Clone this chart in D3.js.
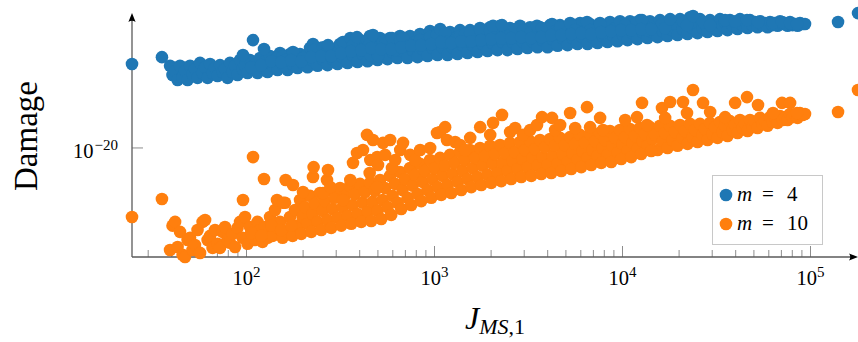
<!DOCTYPE html>
<html><head><meta charset="utf-8">
<script src="https://cdn.jsdelivr.net/npm/d3@7"></script>
<style>html,body{margin:0;padding:0;background:#fff;} svg{display:block;}</style>
</head><body>
<svg id="chart" width="858" height="342"></svg>
<script>
// J_{MS,1} values (shared by both series)
const jms = [24.6, 35.5,
39.2, 40.4, 41.7, 43.0, 44.3, 45.7, 47.1, 48.6, 50.1, 51.6,
53.2, 54.9, 56.6, 58.4, 60.2, 62.1, 64.0, 66.0, 68.0, 70.1,
72.3, 74.6, 76.8, 79.3, 81.7, 84.3, 86.9, 89.6, 92.4, 95.3,
98.2, 101.3, 104.4, 107.7, 111.0, 114.5, 118.0, 121.7, 125.4, 129.4,
133.4, 137.6, 141.8, 146.3, 150.7, 155.5, 160.3, 165.4, 170.4, 175.8,
181.1, 186.9, 192.6, 198.7, 204.7, 211.2, 217.7, 224.6, 231.4, 238.7,
246.0, 253.8, 261.5, 269.8, 278.0, 286.8, 295.6, 305.0, 314.3, 324.2,
334.1, 344.7, 355.2, 366.4, 377.6, 389.6, 401.5, 414.2, 426.8, 440.3,
453.8, 468.1, 482.4, 497.7, 513.0, 529.2, 545.4, 562.6, 579.8, 598.2,
616.5, 636.0, 655.4, 676.1, 696.8, 718.8, 740.8, 764.2, 787.6, 812.5,
837.3, 863.8, 890.2, 918.4, 946.5, 976.3, 1006, 1038, 1070, 1104,
1137, 1173, 1209, 1247, 1285, 1326, 1367, 1410, 1453, 1499,
1545, 1594, 1643, 1695, 1746, 1802, 1857, 1916, 1974, 2037,
2099, 2165, 2231, 2301, 2371, 2446, 2521, 2601, 2681, 2766,
2850, 2940, 3030, 3126, 3221, 3323, 3425, 3533, 3641, 3756,
3871, 3994, 4116, 4246, 4375, 4514, 4652, 4799, 4945, 5102,
5258, 5424, 5590, 5766, 5942, 6130, 6318, 6517, 6716, 6929,
7141, 7366, 7591, 7831, 8071, 8326, 8580, 8851, 9122, 9410,
9698, 10000, 10310, 10640, 10960, 11310, 11650, 12020, 12390, 12780,
13170, 13590, 14000, 14450, 14890, 15360, 15830, 16330, 16830, 17360,
17890, 18460, 19020, 19620, 20220, 20860, 21500, 22180, 22860, 23580,
24300, 25070, 25830, 26650, 27470, 28340, 29200, 30120, 31040, 32020,
33000, 34050, 35090, 36200, 37300, 38480, 39660, 40920, 42170, 43500,
44830, 46250, 47660, 49170, 50670, 52270, 53870, 55580, 57280, 59090,
60890, 62820, 64740, 66790, 68830, 71010, 73180, 75490, 77800, 80260,
82710, 85320, 87930, 90710, 93480,
95.8, 108.3, 123.9, 145.3, 156.4, 161.5, 176.7, 199.7, 225.8, 227.5,
255.2, 268.0, 271.3, 279.5, 326.0, 356.5, 368.5, 387.0, 416.5, 437.4,
455.5, 452.0, 470.7, 494.4, 495.8, 500.6, 532.2, 546.5, 581.0, 594.2,
618.0, 657.0, 680.0, 742.5, 789.5, 839.0, 948.0, 1031, 1072, 1139,
1165, 1288, 1369, 1456, 1548, 1750, 1978, 2048, 2286, 2525,
2686, 2957, 3227, 3510, 3731, 4218, 4380, 4660, 5265, 5600,
6475, 6725, 7600, 7876, 10330, 11940, 12700, 13500, 16220, 16860,
17920, 20980, 22030, 23710, 26810, 29250, 35150, 39720, 45940, 52570,
63170, 70540, 77900, 84760,
140100, 178900,
106.0, 119.8, 135.5, 153.0, 173.0,
195.6, 221.1, 249.8, 282.3, 319.1, 360.7, 407.7, 460.8, 520.9, 588.7,
665.5, 752.2, 850.2, 961.1, 1086, 1228, 1388, 1569, 1773, 2004,
2265, 2560, 2894, 3271, 3697, 4179, 4724, 5339, 6034, 6819,
7708, 8712, 9847, 11130, 12580, 14220];

// Damage, m = 4
const damageM4 = [1.6e-16, 3.5e-16,
1.3e-16, 4.5e-17, 7.1e-17, 2.5e-17, 1.3e-16, 3.5e-17, 7.1e-17, 2.5e-17, 1.3e-16, 5.0e-17,
8.9e-17, 3.2e-17, 1.8e-16, 5.6e-17, 1.1e-16, 3.2e-17, 1.6e-16, 5.6e-17, 1e-16, 4.0e-17,
1.4e-16, 6.3e-17, 8.9e-17, 3.2e-17, 1.8e-16, 6.3e-17, 1.3e-16, 4.5e-17, 2.5e-16, 8.9e-17,
1.3e-16, 5.6e-17, 2.5e-16, 8.9e-17, 1.6e-16, 5.6e-17, 3.2e-16, 1.1e-16, 2.2e-16, 6.3e-17,
4.0e-16, 1.3e-16, 2.5e-16, 7.9e-17, 5.6e-16, 1.6e-16, 2.8e-16, 7.9e-17, 5.0e-16, 1.6e-16,
2.8e-16, 1e-16, 5.0e-16, 1.8e-16, 4.0e-16, 1.1e-16, 1e-15, 2.5e-16, 5.6e-16, 1.3e-16,
1e-15, 2.8e-16, 4.5e-16, 1.4e-16, 1e-15, 2.8e-16, 5.0e-16, 1.6e-16, 1.6e-15, 3.5e-16,
8.9e-16, 1.8e-16, 2.5e-15, 4.5e-16, 1.3e-15, 2.0e-16, 2.5e-15, 5.0e-16, 1.1e-15, 2.2e-16,
4.0e-15, 5.6e-16, 1.4e-15, 2.5e-16, 3.2e-15, 5.6e-16, 1.3e-15, 2.8e-16, 3.2e-15, 6.3e-16,
1.8e-15, 3.2e-16, 4.0e-15, 7.1e-16, 1.8e-15, 3.2e-16, 4.0e-15, 7.9e-16, 2.0e-15, 3.5e-16,
5.0e-15, 8.9e-16, 2.5e-15, 4.0e-16, 7.1e-15, 1e-15, 3.2e-15, 4.5e-16, 7.9e-15, 1.1e-15,
2.8e-15, 4.5e-16, 6.3e-15, 1.1e-15, 3.2e-15, 5.0e-16, 7.9e-15, 1.4e-15, 3.2e-15, 5.6e-16,
7.9e-15, 1.4e-15, 4.0e-15, 6.3e-16, 1e-14, 1.6e-15, 4.0e-15, 7.1e-16, 1.1e-14, 1.8e-15,
4.5e-15, 7.9e-16, 1.3e-14, 2.0e-15, 4.5e-15, 7.9e-16, 1e-14, 2.0e-15, 5.0e-15, 8.9e-16,
1.3e-14, 2.2e-15, 5.6e-15, 1e-15, 1.1e-14, 2.2e-15, 5.6e-15, 1.1e-15, 1.1e-14, 2.5e-15,
5.6e-15, 1.1e-15, 1.4e-14, 2.8e-15, 7.1e-15, 1.3e-15, 1.4e-14, 3.2e-15, 7.1e-15, 1.4e-15,
1.6e-14, 3.2e-15, 7.1e-15, 1.6e-15, 1.8e-14, 3.5e-15, 7.9e-15, 1.6e-15, 1.6e-14, 3.5e-15,
7.9e-15, 1.8e-15, 1.8e-14, 4.0e-15, 8.9e-15, 2.0e-15, 2.0e-14, 4.5e-15, 1e-14, 2.2e-15,
2.2e-14, 5.0e-15, 1e-14, 2.5e-15, 2.2e-14, 5.6e-15, 1e-14, 2.8e-15, 2.5e-14, 6.3e-15,
1.1e-14, 3.2e-15, 2.2e-14, 6.3e-15, 1.3e-14, 3.5e-15, 2.5e-14, 7.1e-15, 1.3e-14, 4.0e-15,
2.5e-14, 7.9e-15, 1.6e-14, 4.5e-15, 2.8e-14, 8.9e-15, 1.8e-14, 5.0e-15, 3.5e-14, 1e-14,
2.0e-14, 5.6e-15, 2.8e-14, 1e-14, 1.6e-14, 6.3e-15, 2.5e-14, 1.1e-14, 1.6e-14, 7.1e-15,
2.8e-14, 1.3e-14, 1.8e-14, 7.9e-15, 2.5e-14, 1.3e-14, 1.8e-14, 8.9e-15, 2.8e-14, 1.4e-14,
2.0e-14, 1e-14, 2.5e-14, 1.4e-14, 2.0e-14, 1.1e-14, 2.2e-14, 1.4e-14, 1.8e-14, 1.1e-14,
2.0e-14, 1.4e-14, 1.8e-14, 1.3e-14, 2.2e-14, 1.6e-14, 1.8e-14, 1.3e-14, 2.0e-14, 1.4e-14,
1.6e-14, 1.3e-14, 1.8e-14, 1.6e-14, 1.6e-14,
4.5e-16, 2.5e-15, 8.9e-16, 3.2e-16, 4.0e-16, 2.5e-16, 6.3e-16, 3.2e-16, 1.6e-15, 7.9e-16,
1.1e-15, 6.3e-16, 1.4e-15, 4.0e-16, 2.0e-15, 3.2e-15, 1.4e-15, 3.5e-15, 7.9e-16, 2.5e-15,
4.5e-16, 1.6e-15, 4.5e-15, 1e-15, 6.3e-16, 4.0e-16, 2.0e-15, 1.6e-15, 1e-15, 3.2e-15,
7.9e-16, 2.5e-15, 3.2e-15, 1.4e-15, 1.3e-15, 2.5e-15, 3.5e-15, 4.5e-15, 8.9e-15, 5.6e-15,
2.0e-15, 2.5e-15, 4.0e-15, 5.0e-15, 5.6e-15, 7.9e-15, 7.1e-15, 1.3e-14, 1.4e-14, 4.5e-15,
8.9e-15, 7.9e-15, 5.6e-15, 1.3e-14, 1e-14, 1.6e-14, 7.1e-15, 1.1e-14, 1.8e-14, 7.9e-15,
2.0e-14, 7.9e-15, 1.6e-14, 5.6e-15, 1.4e-14, 2.0e-14, 2.5e-14, 7.9e-15, 1.6e-14, 1e-14,
2.8e-14, 2.2e-14, 1.4e-14, 4.0e-14, 2.0e-14, 1.4e-14, 2.5e-14, 2.2e-14, 2.5e-14, 2.0e-14,
1.8e-14, 2.0e-14, 1.8e-14, 1.6e-14,
2.0e-14, 5.6e-14,
1.1e-16, 1.4e-16, 2.2e-16, 2.0e-16, 2.5e-16,
2.2e-16, 3.5e-16, 4.0e-16, 4.0e-16, 5.6e-16, 7.1e-16, 7.9e-16, 1e-15, 8.9e-16, 8.9e-16,
1.1e-15, 1.3e-15, 1.4e-15, 1.6e-15, 2.0e-15, 1.8e-15, 2.2e-15, 2.2e-15, 2.5e-15, 2.8e-15,
3.2e-15, 3.2e-15, 3.5e-15, 3.2e-15, 3.5e-15, 4.5e-15, 4.5e-15, 5.0e-15, 5.6e-15, 5.0e-15,
6.3e-15, 7.1e-15, 7.9e-15, 7.9e-15, 8.9e-15, 8.9e-15];

// Damage, m = 10
const damageM10 = [3.5e-24, 2.8e-23,
7.9e-26, 1.3e-24, 2.0e-24, 1.1e-25, 6.3e-25, 4.5e-26, 3.5e-26, 2.5e-25, 3.2e-25, 7.9e-26,
1.4e-25, 7.9e-25, 5.6e-26, 2.0e-24, 2.5e-24, 2.5e-25, 4.0e-25, 1e-25, 7.9e-25, 1.6e-25,
1e-25, 6.3e-25, 1.1e-24, 2.5e-25, 1.8e-25, 5.0e-25, 1.1e-25, 1e-24, 2.0e-24, 3.2e-25,
3.5e-24, 1.6e-25, 1.1e-24, 3.2e-25, 2.5e-25, 2.0e-24, 7.9e-25, 2.0e-25, 1.1e-24, 3.2e-25,
3.5e-24, 4.0e-25, 7.9e-24, 1e-24, 2.0e-24, 3.2e-25, 1.8e-23, 6.3e-25, 3.5e-24, 4.0e-25,
7.9e-24, 1.3e-24, 2.5e-23, 3.5e-24, 1.1e-23, 1.6e-24, 4.0e-23, 5.0e-24, 1.6e-23, 2.0e-24,
5.6e-23, 7.1e-24, 2.2e-23, 2.5e-24, 7.9e-23, 8.9e-24, 3.2e-23, 3.2e-24, 1e-22, 1.1e-23,
4.0e-23, 4.0e-24, 1.3e-22, 1.4e-23, 5.0e-23, 5.0e-24, 1.6e-22, 1.8e-23, 6.3e-23, 6.3e-24,
1.8e-22, 2.0e-23, 7.1e-23, 7.1e-24, 2.5e-22, 2.5e-23, 1e-22, 1.1e-23, 4.0e-22, 4.0e-23,
1.6e-22, 1.8e-23, 6.3e-22, 7.9e-23, 2.8e-22, 3.2e-23, 1e-21, 1.3e-22, 4.5e-22, 5.0e-23,
1.6e-21, 2.0e-22, 7.1e-22, 7.9e-23, 2.5e-21, 2.8e-22, 1e-21, 1.1e-22, 3.2e-21, 4.0e-22,
1.3e-21, 1.4e-22, 4.5e-21, 5.0e-22, 1.8e-21, 2.0e-22, 6.3e-21, 7.1e-22, 2.5e-21, 2.8e-22,
7.9e-21, 1e-21, 3.2e-21, 3.5e-22, 1e-20, 1.3e-21, 4.0e-21, 4.5e-22, 1.3e-20, 1.6e-21,
5.0e-21, 5.6e-22, 1.4e-20, 1.8e-21, 5.6e-21, 7.1e-22, 1.8e-20, 2.2e-21, 6.3e-21, 8.9e-22,
2.0e-20, 2.8e-21, 7.9e-21, 1.1e-21, 2.2e-20, 3.2e-21, 8.9e-21, 1.3e-21, 2.5e-20, 3.5e-21,
1.1e-20, 1.4e-21, 2.8e-20, 4.0e-21, 1.3e-20, 1.6e-21, 3.2e-20, 5.0e-21, 1.4e-20, 2.0e-21,
3.5e-20, 5.6e-21, 1.6e-20, 2.5e-21, 4.5e-20, 7.1e-21, 1.8e-20, 3.2e-21, 5.0e-20, 7.9e-21,
2.2e-20, 4.0e-21, 5.6e-20, 1e-20, 2.5e-20, 4.5e-21, 7.1e-20, 1.3e-20, 3.2e-20, 5.6e-21,
7.9e-20, 1.6e-20, 3.5e-20, 7.1e-21, 8.9e-20, 1.8e-20, 4.0e-20, 8.9e-21, 1e-19, 2.2e-20,
5.0e-20, 1.3e-20, 1.1e-19, 2.8e-20, 4.5e-20, 7.9e-21, 1.3e-19, 2.2e-20, 5.6e-20, 1e-20,
1.3e-19, 2.5e-20, 6.3e-20, 1.3e-20, 1.4e-19, 3.2e-20, 7.1e-20, 1.6e-20, 1.6e-19, 3.5e-20,
7.9e-20, 2.0e-20, 1.6e-19, 4.5e-20, 8.9e-20, 2.5e-20, 1.8e-19, 5.0e-20, 1.1e-19, 3.2e-20,
2.0e-19, 6.3e-20, 1.3e-19, 4.0e-20, 2.2e-19, 7.9e-20, 1.4e-19, 5.6e-20, 2.5e-19, 1e-19,
1.6e-19, 7.1e-20, 2.5e-19, 1.1e-19, 2.0e-19, 1e-19, 3.2e-19, 1.6e-19, 2.2e-19, 1.3e-19,
3.5e-19, 2.0e-19, 3.2e-19, 1.8e-19, 4.0e-19, 2.5e-19, 3.5e-19, 2.5e-19, 5.0e-19, 3.5e-19,
4.5e-19, 3.2e-19, 5.6e-19, 4.5e-19, 5.0e-19,
2.5e-23, 3.5e-21, 2.8e-22, 2.5e-23, 1.8e-23, 2.5e-22, 1.4e-22, 6.3e-23, 3.5e-22, 1.1e-21,
5.6e-23, 2.5e-22, 7.9e-22, 1.1e-22, 2.5e-23, 2.5e-22, 1.8e-21, 5.6e-21, 7.9e-21, 4.5e-20,
2.5e-21, 5.6e-22, 2.5e-20, 1.1e-22, 3.5e-21, 1.4e-21, 1.8e-20, 4.5e-21, 2.5e-20, 1e-21,
2.5e-21, 7.9e-21, 1.8e-20, 4.5e-21, 2.5e-21, 7.9e-21, 1e-20, 5.6e-20, 6.3e-20, 1.1e-19,
2.5e-20, 2.0e-20, 1.4e-20, 7.9e-21, 3.2e-20, 1.1e-19, 4.5e-20, 1.8e-19, 4.5e-19, 6.3e-20,
1e-19, 4.5e-20, 7.9e-20, 1.4e-19, 3.5e-19, 3.2e-19, 7.9e-20, 1.4e-19, 5.6e-19, 1e-19,
1.1e-18, 1.1e-19, 3.2e-19, 7.9e-20, 2.5e-19, 3.5e-19, 1.8e-18, 1.4e-19, 1e-18, 3.2e-19,
2.0e-18, 2.0e-18, 5.6e-19, 7.9e-18, 1.8e-18, 6.3e-19, 3.5e-19, 1.8e-18, 3.5e-18, 1.4e-18,
5.6e-19, 1.8e-18, 1.8e-18, 5.6e-19,
6.3e-19, 7.9e-18,
5.6e-25, 4.0e-25, 1.3e-24, 7.9e-25, 1.3e-24,
5.0e-25, 6.3e-25, 7.9e-25, 1e-24, 1.3e-24, 1.6e-24, 2.0e-24, 2.2e-24, 2.8e-24, 4.5e-24,
8.9e-24, 1.4e-23, 2.2e-23, 3.2e-23, 4.5e-23, 5.6e-23, 7.9e-23, 1.1e-22, 1.4e-22, 1.8e-22,
2.2e-22, 2.8e-22, 3.5e-22, 4.0e-22, 5.0e-22, 5.6e-22, 7.1e-22, 8.9e-22, 1.1e-21, 1.4e-21,
1.8e-21, 2.0e-21, 2.8e-21, 3.5e-21, 5.0e-21, 7.1e-21];

const seriesNames = ["4", "10"];
const seriesColors = ["#1f77b4", "#ff7f0e"];
const xMajorExponents = [2, 3, 4, 5];
const yMajorExponents = [-20];

const svg = d3.select("#chart");
const plot = {left: 132, right: 858, top: 15, bottom: 257};
const x = d3.scaleLog().domain(d3.extent(jms)).range([plot.left, plot.right]);
const y = d3.scaleLog().domain([3.5e-26, 4.5e-14]).range([plot.bottom, plot.top]);
const font = "'Liberation Serif', 'Times New Roman', serif";

// minor + major ticks on x
const gAx = svg.append("g");
x.ticks().forEach(v => {
  const e = Math.log10(v);
  const major = Math.abs(e - Math.round(e)) < 1e-9;
  const px = x(v);
  if (px <= plot.left + 1 || px >= plot.right - 2) return;
  gAx.append("line").attr("x1", px).attr("x2", px)
    .attr("y1", plot.bottom).attr("y2", plot.bottom - (major ? 11 : 7))
    .attr("stroke", "#808080").attr("stroke-width", 0.9);
});
yMajorExponents.forEach(e => {
  const py = y(Math.pow(10, e));
  gAx.append("line").attr("x1", plot.left).attr("x2", plot.left + 11)
    .attr("y1", py).attr("y2", py).attr("stroke", "#808080").attr("stroke-width", 0.9);
});

// axis lines
gAx.append("line").attr("x1", plot.left).attr("x2", plot.left)
  .attr("y1", plot.bottom).attr("y2", plot.top + 4).attr("stroke", "#5a5a5a").attr("stroke-width", 1.3);
gAx.append("line").attr("x1", plot.left).attr("x2", plot.right - 4)
  .attr("y1", plot.bottom).attr("y2", plot.bottom).attr("stroke", "#5a5a5a").attr("stroke-width", 1.3);
// arrowheads
gAx.append("path")
  .attr("d", `M${plot.left},${plot.top - 2} L${plot.left - 3.6},${plot.top + 7} Q${plot.left},${plot.top + 4.5} ${plot.left + 3.6},${plot.top + 7} Z`)
  .attr("fill", "#000");
gAx.append("path")
  .attr("d", `M${plot.right},${plot.bottom} L${plot.right - 9},${plot.bottom - 3.6} Q${plot.right - 6.5},${plot.bottom} ${plot.right - 9},${plot.bottom + 3.6} Z`)
  .attr("fill", "#000");

// tick labels
xMajorExponents.forEach(e => {
  const t = svg.append("text").attr("x", x(Math.pow(10, e))).attr("y", 285)
    .attr("text-anchor", "middle").attr("font-family", font).attr("font-size", 20.5).attr("fill", "#000");
  t.append("tspan").text("10");
  t.append("tspan").attr("dy", -8).attr("font-size", 15).text(String(e));
});
yMajorExponents.forEach(e => {
  const t = svg.append("text").attr("x", 118).attr("y", y(Math.pow(10, e)) + 10)
    .attr("text-anchor", "end").attr("font-family", font).attr("font-size", 20.5).attr("fill", "#000");
  t.append("tspan").text("10");
  t.append("tspan").attr("dy", -8).attr("dx", 1).attr("font-size", 15).text("\u2212" + String(Math.abs(e)));
});

// axis labels
svg.append("text").attr("transform", "translate(37,136) rotate(-90)")
  .attr("text-anchor", "middle").attr("font-family", font).attr("font-size", 33).attr("fill", "#000")
  .text("Damage");
const xl = svg.append("text").attr("x", 495).attr("y", 329).attr("text-anchor", "middle")
  .attr("font-family", font).attr("font-size", 32).attr("fill", "#000");
xl.append("tspan").attr("font-style", "italic").text("J");
xl.append("tspan").attr("font-style", "italic").attr("font-size", 22).attr("dy", 5).text("MS");
xl.append("tspan").attr("font-size", 22).text(",1");

// points
[damageM4, damageM10].forEach((vals, si) => {
  svg.append("g").selectAll("circle").data(vals).join("circle")
    .attr("cx", (d, i) => x(jms[i])).attr("cy", d => y(d))
    .attr("r", 6.3).attr("fill", seriesColors[si]);
});

// legend
const lg = svg.append("g");
lg.append("rect").attr("x", 712.5).attr("y", 175.5).attr("width", 110).attr("height", 69)
  .attr("fill", "#fff").attr("stroke", "#c8c8c8").attr("stroke-width", 1);
seriesNames.forEach((name, i) => {
  const cy = 195 + i * 29;
  lg.append("circle").attr("cx", 726).attr("cy", cy).attr("r", 6.3).attr("fill", seriesColors[i]);
  const t = lg.append("text").attr("y", cy + 6).attr("font-family", font).attr("font-size", 21).attr("fill", "#000");
  t.append("tspan").attr("x", 737).attr("font-style", "italic").text("m");
  t.append("tspan").attr("x", 762).text("=");
  t.append("tspan").attr("x", 787).text(name);
});
</script>
</body></html>
